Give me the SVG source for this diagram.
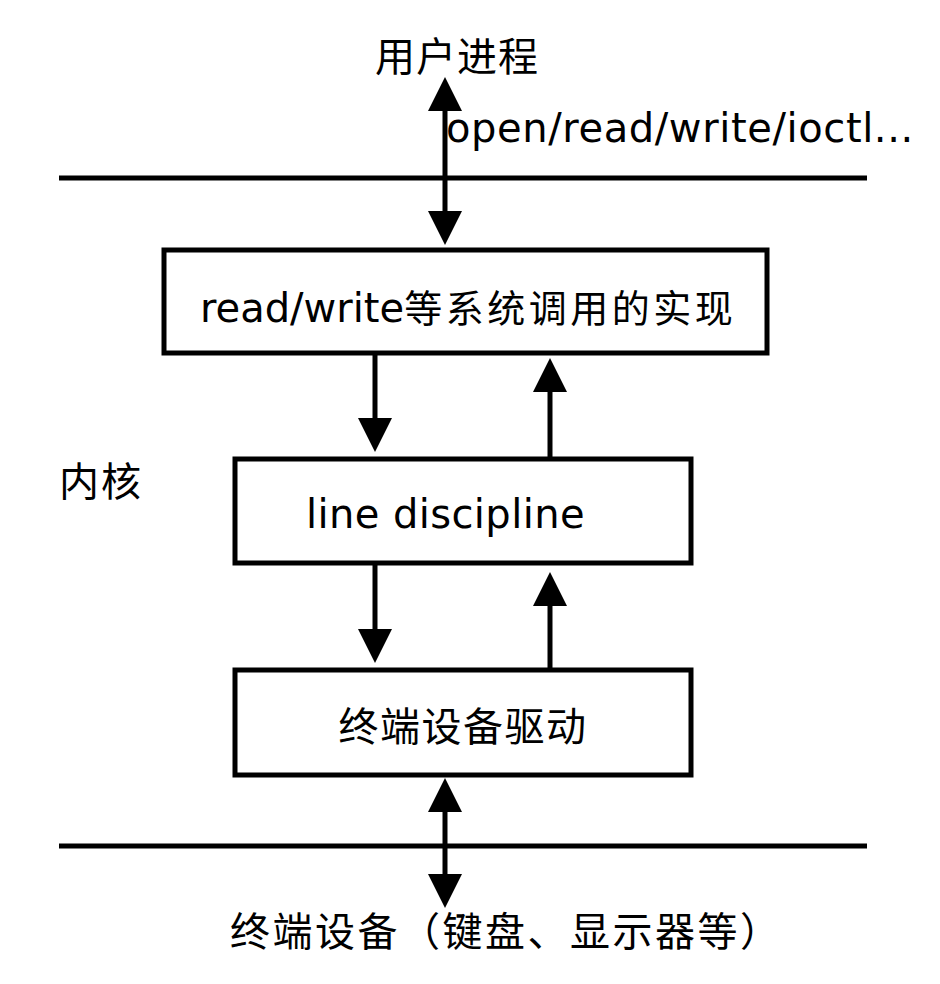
<svg xmlns="http://www.w3.org/2000/svg" width="940" height="984" viewBox="0 0 940 984">
<style>
  .t { font-family: "DejaVu Sans", "Noto Sans CJK SC", sans-serif; font-size: 40px; fill: #000; }
  .box { fill: #fff; stroke: #000; stroke-width: 5; }
  .sep { stroke: #000; stroke-width: 5; }
  .arr { stroke: #000; stroke-width: 5; fill: none; }
</style>
<defs>
  <marker id="ah" markerUnits="userSpaceOnUse" markerWidth="34" markerHeight="34" viewBox="0 0 34 34" refX="28" refY="17" orient="auto-start-reverse">
    <path d="M0,0 L34,17 L0,34 z" fill="#000"/>
  </marker>
</defs>
<rect width="940" height="984" fill="#fff"/>
<g id="boundaries">
  <line class="sep" x1="59" y1="178" x2="867" y2="178"/>
  <line class="sep" x1="59" y1="846" x2="867" y2="846"/>
</g>
<g id="user-process"><text class="t" x="457" y="71" text-anchor="middle" letter-spacing="1">用户进程</text></g>
<g id="syscalls-label"><text class="t" x="446" y="142" letter-spacing="0.6">open/read/write/ioctl...</text></g>
<g id="kernel-label"><text class="t" x="59" y="496" letter-spacing="2">内核</text></g>
<g id="syscall-impl">
  <rect class="box" x="164" y="250" width="603" height="103"/>
  <text class="t" x="200" y="322">read/write<tspan style="font-size:38px" letter-spacing="3.5">等系统调用的实现</tspan></text>
</g>
<g id="line-discipline">
  <rect class="box" x="235" y="459" width="456" height="104"/>
  <text class="t" x="306" y="528" letter-spacing="0.4">line discipline</text>
</g>
<g id="tty-driver">
  <rect class="box" x="235" y="670" width="456" height="105"/>
  <text class="t" x="463" y="741" text-anchor="middle" letter-spacing="1.5">终端设备驱动</text>
</g>
<g id="terminal-device"><text class="t" x="230" y="946" letter-spacing="2.5">终端设备（键盘、显示器等）</text></g>
<g id="connectors">
  <line class="arr" x1="445" y1="83" x2="445" y2="239" marker-start="url(#ah)" marker-end="url(#ah)"/>
  <line class="arr" x1="375" y1="353" x2="375" y2="446" marker-end="url(#ah)"/>
  <line class="arr" x1="550" y1="459" x2="550" y2="364" marker-end="url(#ah)"/>
  <line class="arr" x1="375" y1="563" x2="375" y2="657" marker-end="url(#ah)"/>
  <line class="arr" x1="550" y1="670" x2="550" y2="578" marker-end="url(#ah)"/>
  <line class="arr" x1="445" y1="784" x2="445" y2="902" marker-start="url(#ah)" marker-end="url(#ah)"/>
</g>
</svg>
